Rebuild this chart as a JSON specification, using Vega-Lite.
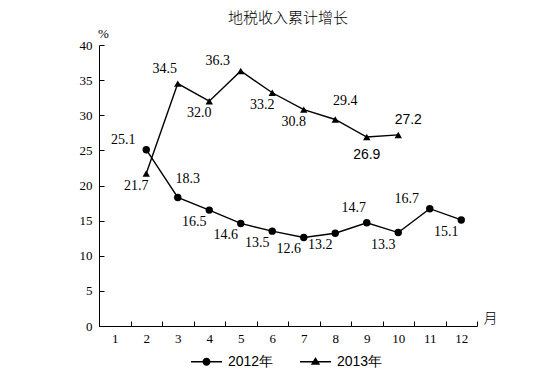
{
  "$schema": "https://vega.github.io/schema/vega-lite/v6.json",
  "autosize": {"type": "none"},
  "width": 378,
  "height": 281,
  "padding": {"left": 99, "top": 45, "right": 76, "bottom": 65},
  "background": "white",
  "title": {"text": "地税收入累计增长", "font": "Noto Sans CJK SC", "fontSize": 15, "fontWeight": 300, "color": "black", "offset": 1},
  "data": {"values": [
    {"year": "2012年", "month": 2, "value": 25.1},
    {"year": "2012年", "month": 3, "value": 18.3},
    {"year": "2012年", "month": 4, "value": 16.5},
    {"year": "2012年", "month": 5, "value": 14.6},
    {"year": "2012年", "month": 6, "value": 13.5},
    {"year": "2012年", "month": 7, "value": 12.6},
    {"year": "2012年", "month": 8, "value": 13.2},
    {"year": "2012年", "month": 9, "value": 14.7},
    {"year": "2012年", "month": 10, "value": 13.3},
    {"year": "2012年", "month": 11, "value": 16.7},
    {"year": "2012年", "month": 12, "value": 15.1},
    {"year": "2013年", "month": 2, "value": 21.7},
    {"year": "2013年", "month": 3, "value": 34.5},
    {"year": "2013年", "month": 4, "value": 32.0},
    {"year": "2013年", "month": 5, "value": 36.3},
    {"year": "2013年", "month": 6, "value": 33.2},
    {"year": "2013年", "month": 7, "value": 30.8},
    {"year": "2013年", "month": 8, "value": 29.4},
    {"year": "2013年", "month": 9, "value": 26.9},
    {"year": "2013年", "month": 10, "value": 27.2}
  ]},
  "config": {
    "view": {"stroke": null},
    "axis": {"domainColor": "black", "tickColor": "black", "labelColor": "black", "titleColor": "black", "grid": false, "labelFont": "Liberation Serif", "labelFontSize": 13, "domainWidth": 1, "tickWidth": 1}
  },
  "resolve": {"scale": {"shape": "independent"}},
  "encoding": {
    "x": {"field": "month", "type": "ordinal",
      "scale": {"type": "band", "domain": [1,2,3,4,5,6,7,8,9,10,11,12], "paddingInner": 0, "paddingOuter": 0},
      "axis": {"labelAngle": 0, "tickBand": "extent", "tickSize": -5, "labelPadding": 11,
        "title": "月", "titleFont": "Noto Sans CJK SC", "titleFontSize": 14, "titleFontWeight": 300,
        "titleAngle": 0, "titleX": 391, "titleY": -8, "titleAlign": "center", "titleBaseline": "middle"}},
    "y": {"field": "value", "type": "quantitative",
      "scale": {"domain": [0, 40], "nice": false, "zero": true},
      "axis": {"values": [0,5,10,15,20,25,30,35,40], "tickSize": -5, "labelPadding": 12,
        "title": "%", "titleFont": "Liberation Serif", "titleFontSize": 13, "titleFontWeight": "normal",
        "titleAngle": 0, "titleX": 4, "titleY": -12, "titleAlign": "center", "titleBaseline": "middle"}}
  },
  "layer": [
    {"mark": {"type": "line", "color": "black", "strokeWidth": 1.4},
     "encoding": {"detail": {"field": "year"}}},
    {"mark": {"type": "point", "filled": true, "color": "black", "opacity": 1, "size": 55},
     "encoding": {"shape": {"field": "year", "type": "nominal",
        "scale": {"domain": ["2012年", "2013年"], "range": ["circle", "triangle-up"]},
        "legend": null}}},
    {"mark": {"type": "point", "filled": true, "color": "black", "opacity": 1, "size": 0},
     "encoding": {"shape": {"field": "year", "type": "nominal",
        "scale": {"domain": ["2012年", "2013年"], "range": ["M-1,-0.045L1,-0.045L1,0.045L-1,0.045Z M-0.26,0A0.26,0.26 0 1,1 0.26,0A0.26,0.26 0 1,1 -0.26,0Z", "M-1,-0.045L1,-0.045L1,0.045L-1,0.045Z M0,-0.3L0.3,0.2L-0.3,0.2Z"]},
        "legend": {"title": null, "orient": "none", "legendX": 91, "legendY": 300, "direction": "horizontal",
          "symbolSize": 961, "symbolFillColor": "black",
          "labelFont": "Liberation Sans", "labelFontSize": 14, "labelColor": "black", "labelOffset": 5, "columnPadding": 23}}}},
    {"transform": [{"filter": "datum.year === '2012年' && indexof([4,5,6,7,8,10,12], datum.month) >= 0"}],
     "mark": {"type": "text", "font": "Liberation Serif", "fontSize": 14, "color": "black", "dx": -15, "dy": 12, "align": "center", "baseline": "middle"},
     "encoding": {"text": {"field": "value", "format": ".1f"}}},
    {"transform": [{"filter": "datum.year === '2013年' && indexof([2,4,6,7], datum.month) >= 0"}],
     "mark": {"type": "text", "font": "Liberation Serif", "fontSize": 14, "color": "black", "dx": -10, "dy": 12, "align": "center", "baseline": "middle"},
     "encoding": {"text": {"field": "value", "format": ".1f"}}},
    {"transform": [{"filter": "(datum.year === '2012年' && indexof([2,11], datum.month) >= 0) || (datum.year === '2013年' && datum.month === 5)"}],
     "mark": {"type": "text", "font": "Liberation Serif", "fontSize": 14, "color": "black", "dx": -23, "dy": -10, "align": "center", "baseline": "middle"},
     "encoding": {"text": {"field": "value", "format": ".1f"}}},
    {"transform": [{"filter": "(datum.year === '2012年' && datum.month === 9) || (datum.year === '2013年' && datum.month === 3)"}],
     "mark": {"type": "text", "font": "Liberation Serif", "fontSize": 14, "color": "black", "dx": -13, "dy": -15, "align": "center", "baseline": "middle"},
     "encoding": {"text": {"field": "value", "format": ".1f"}}},
    {"transform": [{"filter": "(datum.year === '2012年' && datum.month === 3) || (datum.year === '2013年' && datum.month === 8)"}],
     "mark": {"type": "text", "font": "Liberation Serif", "fontSize": 14, "color": "black", "dx": 10, "dy": -18, "align": "center", "baseline": "middle"},
     "encoding": {"text": {"field": "value", "format": ".1f"}}},
    {"transform": [{"filter": "datum.year === '2013年' && datum.month === 9"}],
     "mark": {"type": "text", "font": "Liberation Sans", "fontSize": 14, "color": "black", "dx": 0, "dy": 18, "align": "center", "baseline": "middle"},
     "encoding": {"text": {"field": "value", "format": ".1f"}}},
    {"transform": [{"filter": "datum.year === '2013年' && datum.month === 10"}],
     "mark": {"type": "text", "font": "Liberation Sans", "fontSize": 14, "color": "black", "dx": 10, "dy": -15, "align": "center", "baseline": "middle"},
     "encoding": {"text": {"field": "value", "format": ".1f"}}}
  ]
}
